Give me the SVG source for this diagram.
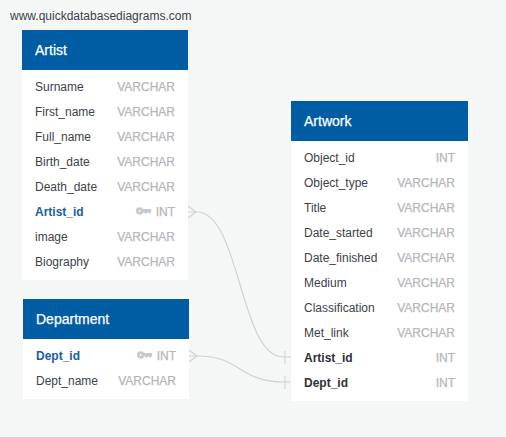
<svg xmlns="http://www.w3.org/2000/svg" width="506" height="437" viewBox="0 0 506 437">
<defs>
<style>
text{font-family:"Liberation Sans",Arial,sans-serif;font-size:12px}
.box{fill:#fff}.head{fill:#005ca3}
.title{fill:#fff;font-size:14px;stroke:#fff;stroke-width:.25}
.f{fill:#3c4249}.t{fill:#b4b6ba;text-anchor:end;stroke:#b4b6ba;stroke-width:.25}
.pk{fill:#1b5e9c;font-weight:700}.fk{fill:#2d3238;font-weight:700}
.c{fill:none;stroke:#cfd2cf;stroke-width:1.15}
.k{fill:#c5cad1}
</style>
<g id="key"><circle cx="3.6" cy="0" r="2.3" fill="none" stroke="#c5cad1" stroke-width="2.8"/><path class="k" d="M6 -2H15.2V0.6L13.6 3L12.2 1.6H11.2L9.8 3L8.4 1.6H6Z"/></g>
</defs>
<rect width="506" height="437" fill="#f5f7f6"/>
<text x="10" y="20" fill="#3c4249">www.quickdatabasediagrams.com</text>
<g id="connectors">
<path class="c" d="M188 212H197C240 212 240 357 283 357H291"/>
<path class="c" d="M189 356H198C240 356 240 382 283 382H291"/>
<path class="c" d="M188 206L196 212L188 218M285 351V364"/>
<path class="c" d="M189 350L197 356L189 362M285 376V389"/>
</g>
<g id="artist">
<rect class="box" x="22" y="30" width="166" height="250"/><rect class="head" x="22" y="30" width="166" height="40"/>
<text class="title" x="35" y="55">Artist</text>
<text class="f" x="35" y="91">Surname</text><text class="t" x="175" y="91">VARCHAR</text>
<text class="f" x="35" y="116">First_name</text><text class="t" x="175" y="116">VARCHAR</text>
<text class="f" x="35" y="141">Full_name</text><text class="t" x="175" y="141">VARCHAR</text>
<text class="f" x="35" y="166">Birth_date</text><text class="t" x="175" y="166">VARCHAR</text>
<text class="f" x="35" y="191">Death_date</text><text class="t" x="175" y="191">VARCHAR</text>
<text class="pk" x="35" y="216">Artist_id</text><use href="#key" x="136" y="211"/><text class="t" x="175" y="216">INT</text>
<text class="f" x="35" y="241">image</text><text class="t" x="175" y="241">VARCHAR</text>
<text class="f" x="35" y="266">Biography</text><text class="t" x="175" y="266">VARCHAR</text>
</g>
<g id="department">
<rect class="box" x="23" y="299" width="166" height="100"/><rect class="head" x="23" y="299" width="166" height="40"/>
<text class="title" x="36" y="324">Department</text>
<text class="pk" x="36" y="360">Dept_id</text><use href="#key" x="137" y="355"/><text class="t" x="176" y="360">INT</text>
<text class="f" x="36" y="385">Dept_name</text><text class="t" x="176" y="385">VARCHAR</text>
</g>
<g id="artwork">
<rect class="box" x="291" y="101" width="177" height="300"/><rect class="head" x="291" y="101" width="177" height="40"/>
<text class="title" x="304" y="126">Artwork</text>
<text class="f" x="304" y="162">Object_id</text><text class="t" x="455" y="162">INT</text>
<text class="f" x="304" y="187">Object_type</text><text class="t" x="455" y="187">VARCHAR</text>
<text class="f" x="304" y="212">Title</text><text class="t" x="455" y="212">VARCHAR</text>
<text class="f" x="304" y="237">Date_started</text><text class="t" x="455" y="237">VARCHAR</text>
<text class="f" x="304" y="262">Date_finished</text><text class="t" x="455" y="262">VARCHAR</text>
<text class="f" x="304" y="287">Medium</text><text class="t" x="455" y="287">VARCHAR</text>
<text class="f" x="304" y="312">Classification</text><text class="t" x="455" y="312">VARCHAR</text>
<text class="f" x="304" y="337">Met_link</text><text class="t" x="455" y="337">VARCHAR</text>
<text class="fk" x="304" y="362">Artist_id</text><text class="t" x="455" y="362">INT</text>
<text class="fk" x="304" y="387">Dept_id</text><text class="t" x="455" y="387">INT</text>
</g>
</svg>
